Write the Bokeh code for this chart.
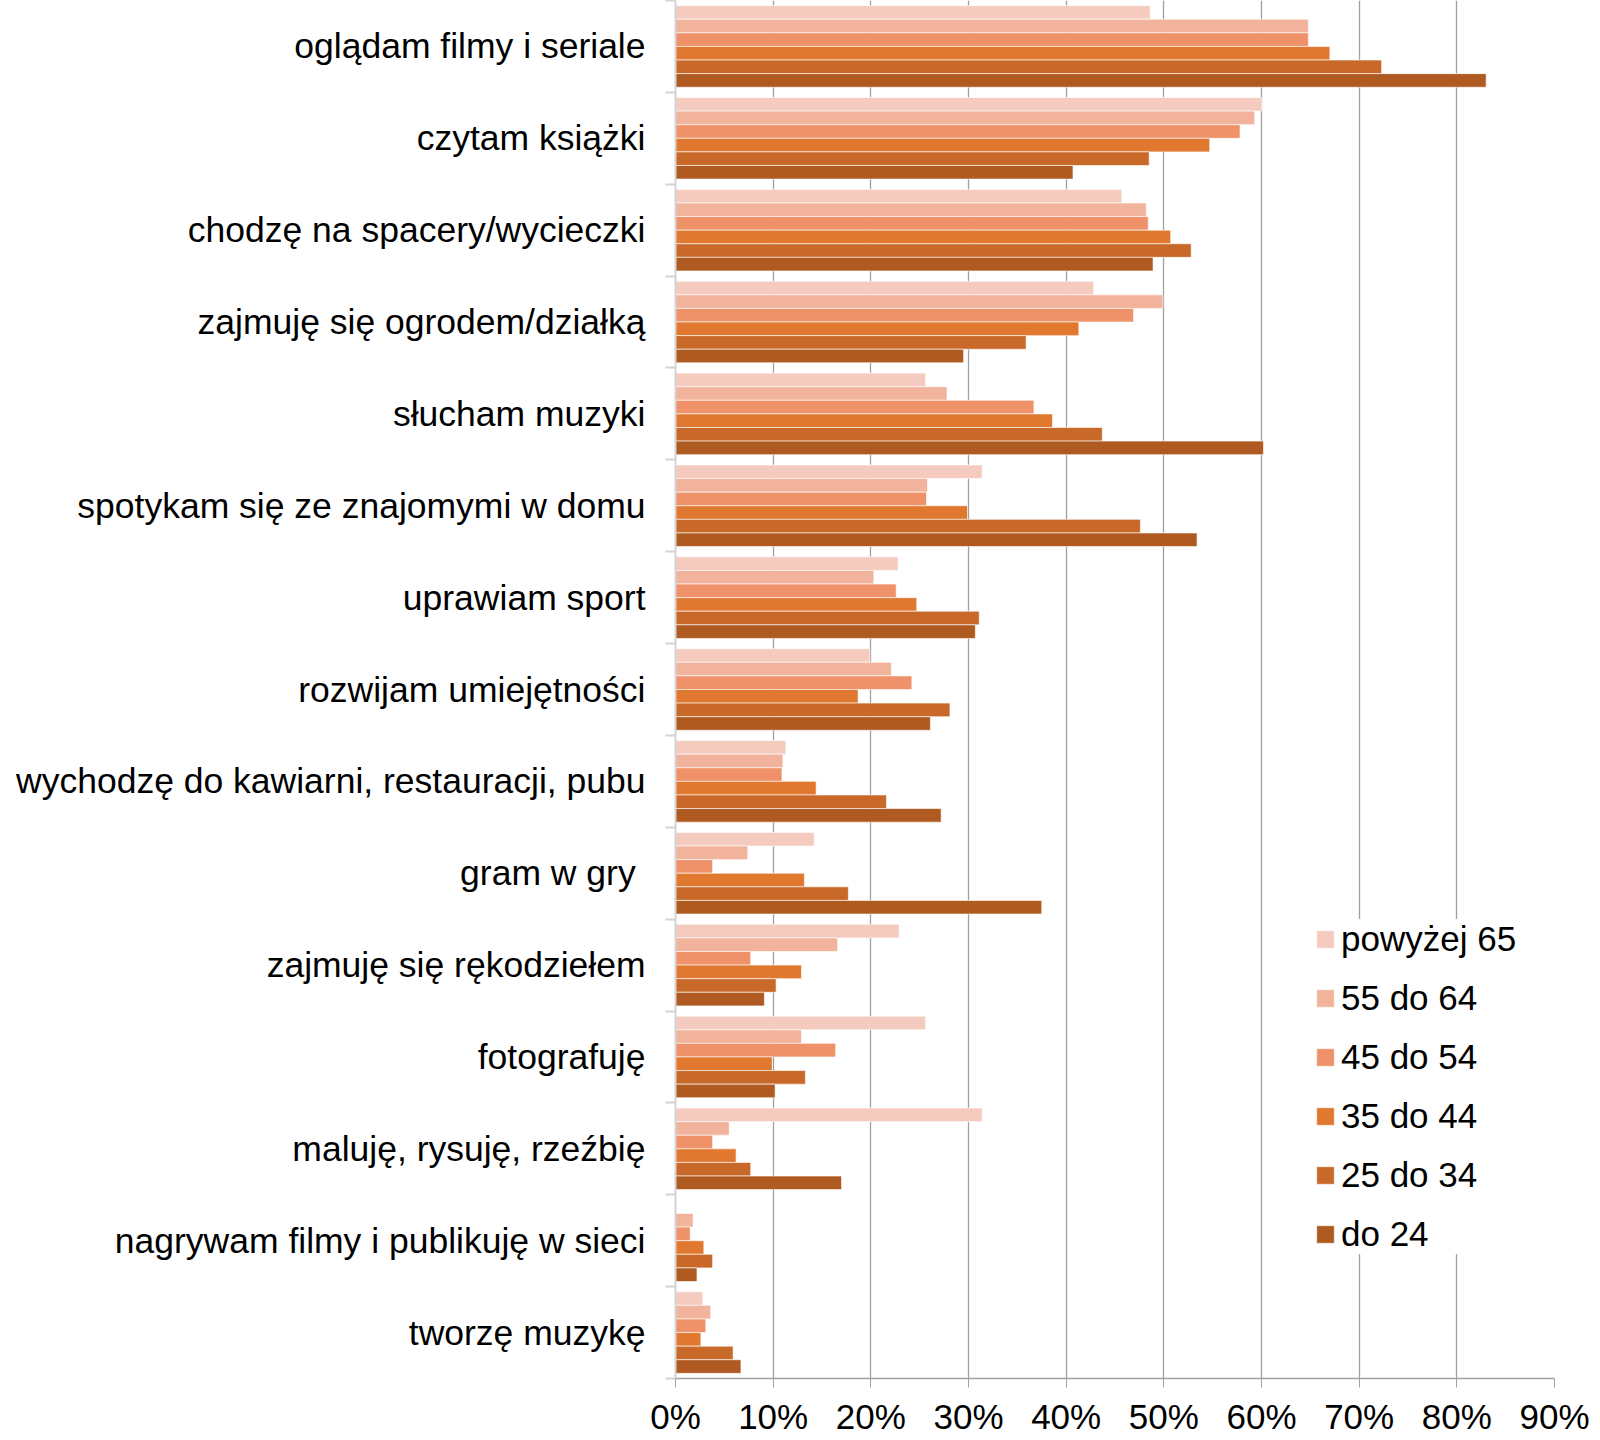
from bokeh.plotting import figure
from bokeh.models import ColumnDataSource, FixedTicker, Range1d, Legend, LegendItem
from bokeh.transform import dodge
from bokeh.embed import file_html
from bokeh.resources import INLINE

categories = [
    "oglądam filmy i seriale",
    "czytam książki",
    "chodzę na spacery/wycieczki",
    "zajmuję się ogrodem/działką",
    "słucham muzyki",
    "spotykam się ze znajomymi w domu",
    "uprawiam sport",
    "rozwijam umiejętności",
    "wychodzę do kawiarni, restauracji, pubu",
    "gram w gry ",
    "zajmuję się rękodziełem",
    "fotografuję",
    "maluję, rysuję, rzeźbię",
    "nagrywam filmy i publikuję w sieci",
    "tworzę muzykę",
]

series_names = ["powyżej 65", "55 do 64", "45 do 54", "35 do 44", "25 do 34", "do 24"]

powyzej_65 = [48.6, 60.0, 45.7, 42.8, 25.6, 31.4, 22.8, 19.9, 11.3, 14.2, 22.9, 25.6, 31.4, 0.0, 2.8]
v55_64 = [64.8, 59.3, 48.2, 49.9, 27.8, 25.8, 20.3, 22.1, 11.0, 7.4, 16.6, 12.9, 5.5, 1.8, 3.6]
v45_54 = [64.8, 57.8, 48.4, 46.9, 36.7, 25.7, 22.6, 24.2, 10.9, 3.8, 7.7, 16.4, 3.8, 1.5, 3.1]
v35_44 = [67.0, 54.7, 50.7, 41.3, 38.6, 29.9, 24.7, 18.7, 14.4, 13.2, 12.9, 9.9, 6.2, 2.9, 2.6]
v25_34 = [72.3, 48.5, 52.8, 35.9, 43.7, 47.6, 31.1, 28.1, 21.6, 17.7, 10.3, 13.3, 7.7, 3.8, 5.9]
do_24 = [83.0, 40.7, 48.9, 29.5, 60.2, 53.4, 30.7, 26.1, 27.2, 37.5, 9.1, 10.2, 17.0, 2.2, 6.7]

x_ticks = [0, 10, 20, 30, 40, 50, 60, 70, 80, 90]
x_tick_labels = ["0%", "10%", "20%", "30%", "40%", "50%", "60%", "70%", "80%", "90%"]

colors = ["#F5CBBF", "#F2B39C", "#EF9169", "#E0782F", "#C86929", "#AE5A21"]

n = len(categories)
centers = [n - i - 0.5 for i in range(n)]
boundaries = list(range(n + 1))

source = ColumnDataSource(data=dict(
    ypos=centers,
    s0=powyzej_65, s1=v55_64, s2=v45_54, s3=v35_44, s4=v25_34, s5=do_24,
))

p = figure(
    width=1600, height=1440,
    x_range=Range1d(0, 90), y_range=Range1d(0, n),
    output_backend="svg", toolbar_location=None,
    min_border_left=675, min_border_right=46,
    min_border_top=0, min_border_bottom=62,
)
p.outline_line_color = None
p.background_fill_color = "white"

bar_h = 0.148
renderers = []
for j, col in enumerate(["s0", "s1", "s2", "s3", "s4", "s5"]):
    off = (2.5 - j) * bar_h
    r = p.hbar(y=dodge("ypos", off, range=p.y_range), left=0, right=col, height=bar_h,
               source=source, fill_color=colors[j], line_color="white",
               line_width=1, line_alpha=0.6)
    renderers.append(r)

# grid
p.ygrid.grid_line_color = None
p.xgrid.ticker = FixedTicker(ticks=x_ticks)
p.xgrid.grid_line_color = "#A0A0A0"
p.xgrid.grid_line_width = 1.3

# x axis
p.xaxis.ticker = FixedTicker(ticks=x_ticks)
p.xaxis.major_label_overrides = {t: l for t, l in zip(x_ticks, x_tick_labels)}
p.xaxis.major_label_text_font = "Liberation Sans"
p.xaxis.major_label_text_font_size = "35px"
p.xaxis.major_label_text_color = "black"
p.xaxis.axis_line_color = "#A0A0A0"
p.xaxis.axis_line_width = 1.5
p.xaxis.major_tick_line_color = "#A0A0A0"
p.xaxis.major_tick_out = 9
p.xaxis.major_tick_in = 0
p.xaxis.minor_tick_line_color = None
p.xaxis.major_label_standoff = 9

# y axis
p.yaxis.ticker = FixedTicker(ticks=centers, minor_ticks=boundaries)
p.yaxis.major_label_overrides = {c: name for c, name in zip(centers, categories)}
p.yaxis.major_label_text_font = "Liberation Sans"
p.yaxis.major_label_text_font_size = "35.5px"
p.yaxis.major_label_text_color = "black"
p.yaxis.major_tick_line_color = None
p.yaxis.major_tick_out = 0
p.yaxis.major_tick_in = 0
p.yaxis.minor_tick_line_color = "#D4D4D4"
p.yaxis.minor_tick_line_width = 2
p.yaxis.minor_tick_out = 10
p.yaxis.minor_tick_in = 0
p.yaxis.axis_line_color = "#D4D4D4"
p.yaxis.axis_line_width = 2
p.yaxis.major_label_standoff = 20

legend = Legend(
    items=[LegendItem(label=series_names[j], renderers=[renderers[j]]) for j in range(6)],
    location=(639, 124),
    glyph_width=22, glyph_height=22, label_height=40, spacing=19,
    label_standoff=5, padding=8, margin=0,
    label_text_font="Liberation Sans", label_text_font_size="35px",
    label_text_color="black",
    border_line_color=None, background_fill_color="white", background_fill_alpha=1.0,
)
p.add_layout(legend)

open("out.html", "w").write(file_html(p, INLINE))
